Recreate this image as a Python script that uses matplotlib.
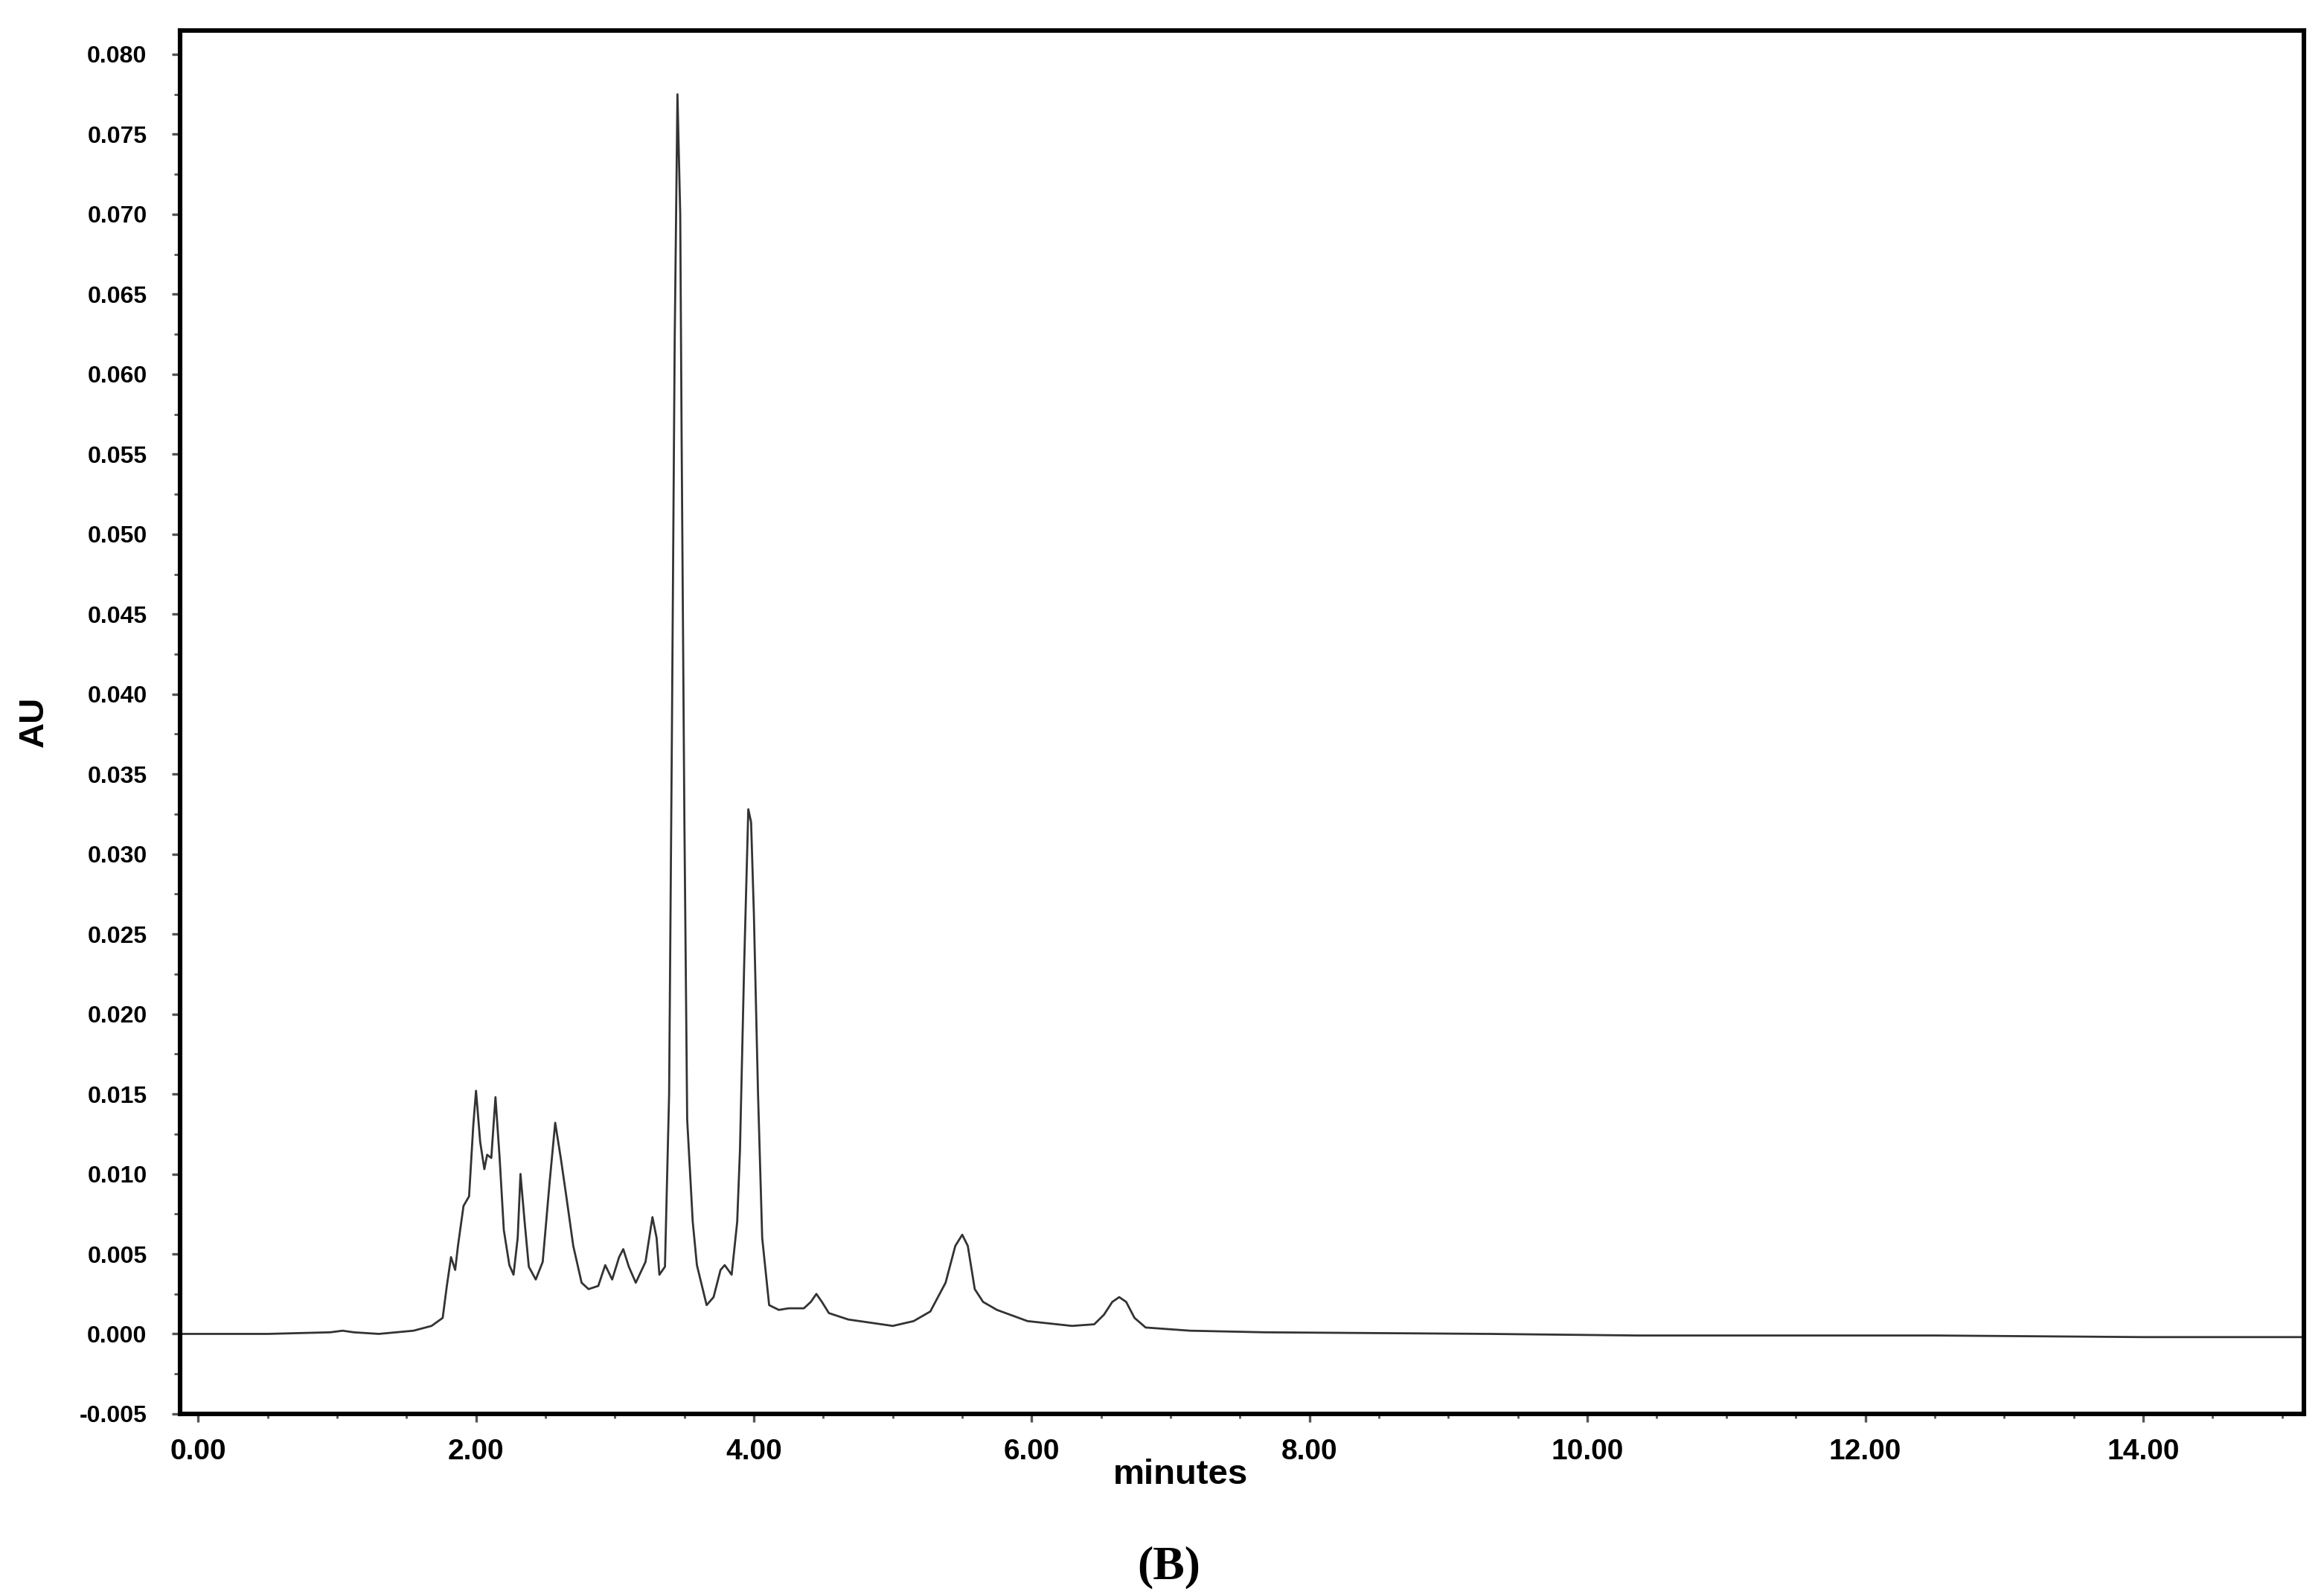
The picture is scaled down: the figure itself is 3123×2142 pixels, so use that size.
import matplotlib
matplotlib.use("Agg")
import matplotlib.pyplot as plt
from matplotlib.ticker import MultipleLocator

time_min = [-0.13, 0.5, 0.95, 1.04, 1.12, 1.3, 1.55, 1.68, 1.76, 1.79, 1.82, 1.85, 1.87, 1.91, 1.95, 1.98, 2.0,
            2.03, 2.06, 2.08, 2.11, 2.14, 2.17, 2.20, 2.24, 2.27, 2.30, 2.32, 2.35, 2.38, 2.43, 2.48, 2.53,
            2.57, 2.61, 2.65, 2.70, 2.76, 2.81, 2.88, 2.93, 2.98, 3.03, 3.06, 3.10, 3.15, 3.22, 3.27, 3.30,
            3.32, 3.36, 3.39, 3.41, 3.43, 3.45, 3.47, 3.48, 3.50, 3.52, 3.56, 3.59, 3.66, 3.71, 3.76, 3.79,
            3.84, 3.88, 3.90, 3.93, 3.96, 3.98, 4.00, 4.03, 4.06, 4.11, 4.18, 4.25, 4.36, 4.41, 4.45, 4.49,
            4.54, 4.68, 5.0, 5.15, 5.27, 5.38, 5.45, 5.50, 5.54, 5.59, 5.65, 5.75, 5.97, 6.29, 6.45, 6.52,
            6.58, 6.63, 6.68, 6.74, 6.82, 7.14, 7.68, 9.29, 10.36, 12.5, 14.0, 15.16]
au = [0.0, 0.0, 0.0001, 0.0002, 0.0001, 0.0, 0.0002, 0.0005, 0.0010, 0.0030, 0.0048, 0.0040, 0.0055, 0.0080,
      0.0086, 0.0130, 0.0152, 0.0120, 0.0103, 0.0112, 0.0110, 0.0148, 0.0110, 0.0065, 0.0043, 0.0037, 0.0060,
      0.0100, 0.0070, 0.0042, 0.0034, 0.0045, 0.0095, 0.0132, 0.0110, 0.0086, 0.0055, 0.0032, 0.0028, 0.0030,
      0.0043, 0.0034, 0.0048, 0.0053, 0.0042, 0.0032, 0.0045, 0.0073, 0.0060, 0.0037, 0.0042, 0.0150, 0.0375,
      0.0620, 0.0775, 0.0700, 0.0560, 0.0320, 0.0134, 0.0070, 0.0043, 0.0018, 0.0023, 0.0040, 0.0043, 0.0037,
      0.0070, 0.0115, 0.0230, 0.0328, 0.0320, 0.0263, 0.0150, 0.0060, 0.0018, 0.0015, 0.0016, 0.0016, 0.0020,
      0.0025, 0.0020, 0.0013, 0.0009, 0.0005, 0.0008, 0.0014, 0.0032, 0.0055, 0.0062, 0.0055, 0.0028, 0.0020,
      0.0015, 0.0008, 0.0005, 0.0006, 0.0012, 0.0020, 0.0023, 0.0020, 0.0010, 0.0004, 0.0002, 0.0001, 0.0,
      -0.0001, -0.0001, -0.0002, -0.0002]

x_ticks = [0, 2, 4, 6, 8, 10, 12, 14]
x_labels = ["0.00", "2.00", "4.00", "6.00", "8.00", "10.00", "12.00", "14.00"]
y_ticks = [-0.005, 0.0, 0.005, 0.010, 0.015, 0.020, 0.025, 0.030, 0.035, 0.040, 0.045, 0.050,
           0.055, 0.060, 0.065, 0.070, 0.075, 0.080]
y_labels = ["%.3f" % v for v in y_ticks]

fig = plt.figure(figsize=(15.615, 10.71), dpi=200)
ax = fig.add_axes([0.0775, 0.113, 0.914, 0.868])
ax.plot(time_min, au, color="#333333", lw=1.0)
ax.set_xlim(-0.13, 15.16)
ax.set_ylim(-0.0041, 0.0815)
ax.set_xticks(x_ticks)
ax.set_xticklabels(x_labels, fontsize=14, fontweight="bold", family="Liberation Sans")
ax.set_yticks(y_ticks)
ax.set_yticklabels(y_labels, fontsize=11.5, fontweight="bold", family="Liberation Sans")
ax.yaxis.set_minor_locator(MultipleLocator(0.0025))
ax.xaxis.set_minor_locator(MultipleLocator(0.5))
ax.tick_params(axis="y", which="major", length=4, width=1.2, pad=12, color="#555555")
ax.tick_params(axis="y", which="minor", length=3, width=1.0, color="#555555")
ax.tick_params(axis="x", which="major", length=4, width=1.2, pad=8, color="#555555")
ax.tick_params(axis="x", which="minor", length=2, width=1.0, color="#555555")
for s in ax.spines.values():
    s.set_linewidth(2.2)
ax.set_ylabel("AU", fontsize=17, fontweight="bold", family="Liberation Sans", labelpad=14)
ax.text(7.07, -0.0088, "minutes", fontsize=17, fontweight="bold", family="Liberation Sans",
        ha="center", va="center")
fig.text(0.503, 0.003, "(B)", fontsize=23, fontweight="bold", family="Liberation Serif",
         ha="center", va="bottom")
fig.savefig("out.png", dpi=200)
